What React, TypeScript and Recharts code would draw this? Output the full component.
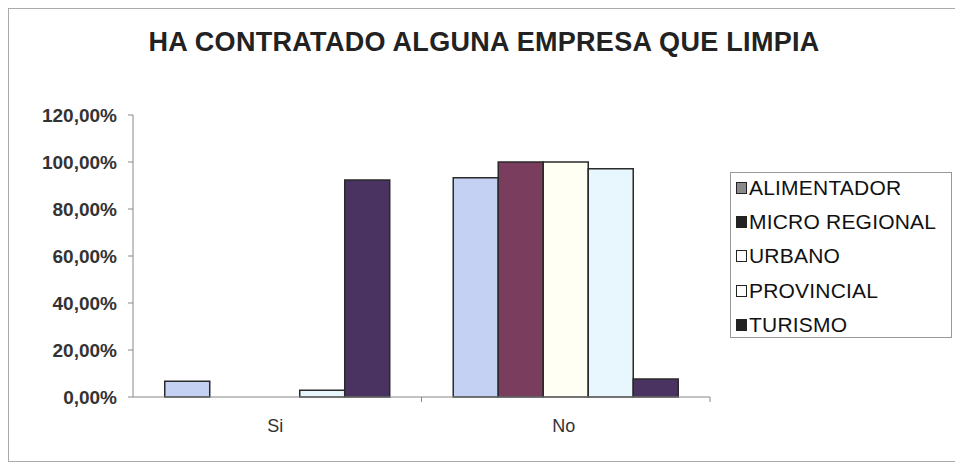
import React from "react";
import { Bar, BarChart, XAxis, YAxis } from "recharts";

const categories = ["Si", "No"];
const alimentador = [6.7, 93.3];
const microRegional = [0, 100];
const urbano = [0, 100];
const provincial = [2.9, 97.1];
const turismo = [92.3, 7.7];
const yTicks = [0, 20, 40, 60, 80, 100, 120];

const series = [
  { key: "alimentador", name: "ALIMENTADOR", fill: "#c4d1f3", swatch: "#8a8a8a" },
  { key: "microRegional", name: "MICRO REGIONAL", fill: "#7a3d5d", swatch: "#222" },
  { key: "urbano", name: "URBANO", fill: "#fffff3", swatch: "#fff" },
  { key: "provincial", name: "PROVINCIAL", fill: "#e8f7fd", swatch: "#fff" },
  { key: "turismo", name: "TURISMO", fill: "#4a3360", swatch: "#222" },
];

const data = categories.map((c, i) => ({
  name: c,
  alimentador: alimentador[i],
  microRegional: microRegional[i],
  urbano: urbano[i],
  provincial: provincial[i],
  turismo: turismo[i],
}));

const FONT = '"Liberation Sans", Arial, sans-serif';
const W = 950;
const H = 452;
const margin = { top: 106, right: 249, left: 0, bottom: 24 };
const halfBand = (W - 124 - margin.right) / categories.length / 2;

const fmt = (v: number) => v.toFixed(2).replace(".", ",") + "%";

const XTick = (props: any) => {
  const { x, y, payload } = props;
  return (
    <g>
      <line x1={x + halfBand} x2={x + halfBand} y1={y - 22} y2={y - 17} stroke="#888" />
      <text x={x - 2} y={y} dy="0.71em" textAnchor="middle" fontFamily={FONT} fontSize={18} fill="#333">
        {payload.value}
      </text>
    </g>
  );
};

const LegendBox = () => (
  <div
    style={{
      position: "absolute",
      left: 721,
      top: 163,
      width: 222,
      height: 166,
      border: "1px solid #999",
      background: "#fff",
      fontFamily: FONT,
      fontSize: 21,
      color: "#111",
      letterSpacing: 0.2,
      paddingTop: 0,
      boxSizing: "border-box",
    }}
  >
    {series.map((s, i) => (
      <div
        key={s.key}
        style={{ display: "flex", alignItems: "center", height: 34.2, marginTop: i === 0 ? -2 : 0 }}
      >
        <span
          style={{
            display: "inline-block",
            width: 9,
            height: 10,
            marginLeft: 5,
            marginRight: 2,
            border: "1.5px solid #222",
            background: s.swatch,
          }}
        />
        <span style={{ whiteSpace: "nowrap" }}>{s.name}</span>
      </div>
    ))}
  </div>
);

export default function App() {
  return (
    <div
      style={{
        position: "relative",
        width: W,
        height: H,
        border: "1px solid #aaa",
        background: "#fff",
      }}
    >
      <div
        style={{
          position: "absolute",
          top: 19,
          left: 0,
          right: 0,
          textAlign: "center",
          fontFamily: FONT,
          fontWeight: "bold",
          fontSize: 27,
          lineHeight: "28px",
          letterSpacing: 0.3,
          color: "#222",
        }}
      >
        HA CONTRATADO ALGUNA EMPRESA QUE LIMPIA
      </div>
      <BarChart
        width={W}
        height={H}
        data={data}
        margin={margin}
        barCategoryGap="11%"
        barGap={0}
      >
        <XAxis
          dataKey="name"
          height={40}
          tickLine={false}
          tickSize={0}
          tickMargin={22}
          stroke="#888"
          tick={<XTick />}
        />
        <YAxis
          width={124}
          domain={[0, 120]}
          ticks={yTicks}
          tickFormatter={fmt}
          stroke="#888"
          tickSize={5}
          tickMargin={11}
          tick={{ fontFamily: FONT, fontWeight: "bold", fontSize: 19, fill: "#333" }}
          interval={0}
        />
        {series.map((s) => (
          <Bar
            key={s.key}
            dataKey={s.key}
            name={s.name}
            fill={s.fill}
            stroke="#2a2a2a"
            strokeWidth={1.5}
            isAnimationActive={false}
          />
        ))}
      </BarChart>
      <LegendBox />
    </div>
  );
}
